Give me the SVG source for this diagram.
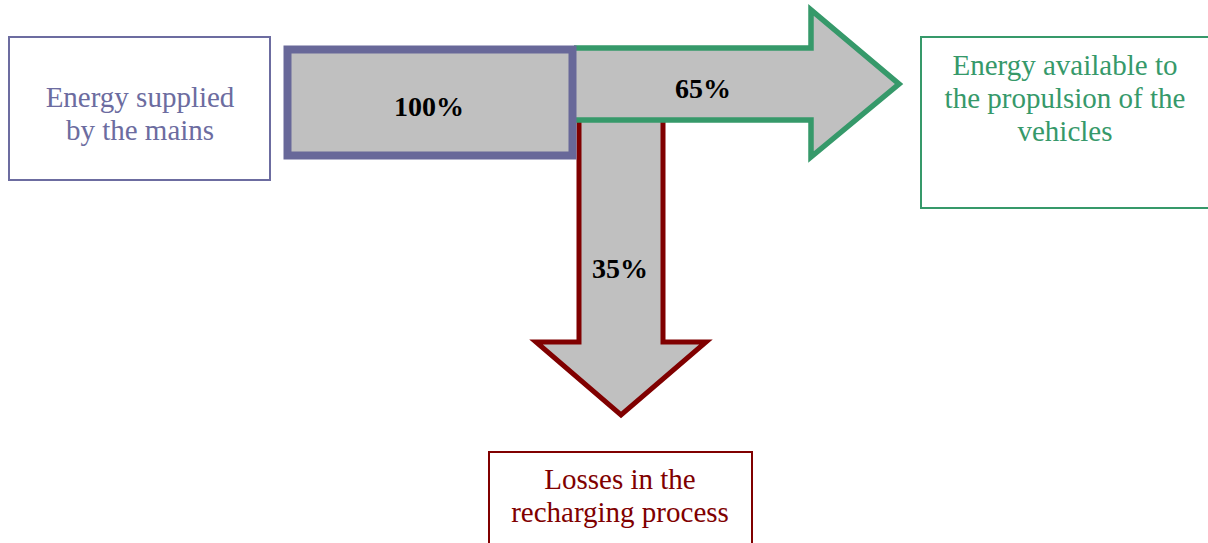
<svg xmlns="http://www.w3.org/2000/svg" width="1208" height="543" viewBox="0 0 1208 543">
<style>
.lbl{font-family:"Liberation Serif","Times New Roman",serif;font-size:29px;text-anchor:middle}
.pct{font-family:"Liberation Serif","Times New Roman",serif;font-size:28px;font-weight:bold;text-anchor:middle;fill:#000}
.box{fill:#fff;stroke-width:2}
.fill{fill:#c0c0c0;stroke:none}
</style>
<rect width="1208" height="543" fill="#fff"/>
<g id="connectors">
<polygon class="fill" points="579,118 663,118 663,342 706,342 621,415 536,342 579,342"/>
<polyline points="579,120 579,342 536,342 621,415 706,342 663,342 663,120" fill="none" stroke="#800000" stroke-width="5"/>
<polygon class="fill" points="574,48 811,48 811,10 899,84 811,157 811,120 574,120"/>
<polyline points="574,48 811,48 811,10 899,84 811,157 811,120 574,120" fill="none" stroke="#36996a" stroke-width="5.5"/>
<rect x="287.5" y="49.5" width="285" height="106" fill="#c0c0c0" stroke="#686899" stroke-width="8"/>
<text class="pct" x="429" y="116">100%</text>
<text class="pct" x="703" y="98">65%</text>
<text class="pct" x="620" y="278">35%</text>
</g>
<g id="mains">
<rect class="box" x="9" y="37" width="261" height="143" stroke="#6c6ca0"/>
<text class="lbl" fill="#6c6ca0" x="140" y="107">Energy supplied</text>
<text class="lbl" fill="#6c6ca0" x="140" y="140">by the mains</text>
</g>
<g id="propulsion">
<rect class="box" x="921" y="37" width="300" height="171" stroke="#36996a"/>
<text class="lbl" fill="#36996a" x="1065" y="75">Energy available to</text>
<text class="lbl" fill="#36996a" x="1065" y="108">the propulsion of the</text>
<text class="lbl" fill="#36996a" x="1065" y="141">vehicles</text>
</g>
<g id="losses">
<rect class="box" x="489" y="452" width="263" height="100" stroke="#800000"/>
<text class="lbl" fill="#800000" x="620" y="489">Losses in the</text>
<text class="lbl" fill="#800000" x="620" y="522">recharging process</text>
</g>
</svg>
